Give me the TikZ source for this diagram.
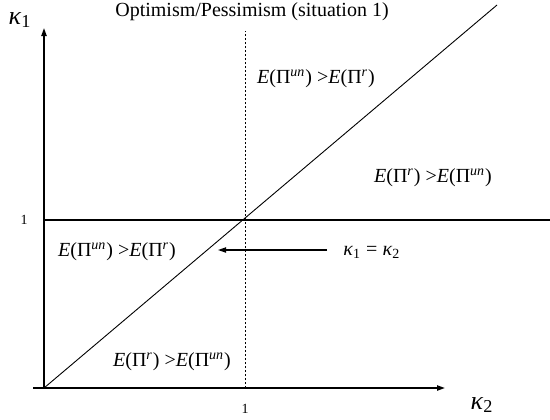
\documentclass[tikz,border=0pt]{standalone}
\usepackage{fontspec}
\setmainfont{Liberation Serif}
\usetikzlibrary{arrows.meta, positioning}
\tikzset{
  op-axis/.style={-{Triangle[length=4pt,width=2.6pt]}, line width=0.8pt},
  op-line/.style={line width=0.8pt},
  op-diag/.style={line width=0.45pt},
  op-dash/.style={line width=0.45pt, dash pattern=on 1.2pt off 0.8pt},
  op-flow/.style={-{Triangle[length=4pt,width=2.6pt]}, line width=0.6pt},
  op-label/.style={inner sep=0pt, font=\fontsize{10}{12}\selectfont},
  op-tick/.style={inner sep=0pt, font=\fontsize{7}{8}\selectfont},
  op-var/.style={inner sep=0pt, font=\fontsize{13}{14}\selectfont},
}
\newcommand{\Eup}{\textit{E}(Π\textsuperscript{\textit{un}})}
\newcommand{\Er}{\textit{E}(Π\textsuperscript{\textit{r}})}

\begin{document}
\begin{tikzpicture}[x=0.5pt, y=-0.5pt]
  \useasboundingbox (0,0) rectangle (550,419);
  % axes and reference lines
  \coordinate (o)    at (44,388);
  \coordinate (ytop) at (44,28);
  \coordinate (xl)   at (33,388);
  \coordinate (xr)   at (445,388);
  \coordinate (vt)   at (245,31);
  \coordinate (vb)   at (245,388);
  \coordinate (hr)   at (550,220);
  \coordinate (hl)   at (44,220);
  \coordinate (dtop) at (497,5);

  \draw[op-axis] (o) -- (ytop);
  \draw[op-axis] (xl) -- (xr);
  \draw[op-dash] (vb) -- (vt);
  \draw[op-line] (hl) -- (hr);
  \draw[op-diag] (o) -- (dtop);

  % labels
  \node[op-label] (title) at (252,12) {Optimism/Pessimism (situation 1)};
  \node[op-var]  (k1) at (20,20) {\textit{κ}\textsubscript{1}};
  \node[op-var]  (k2) at (482,405) {\textit{κ}\textsubscript{2}};
  \node[op-tick] (one-y) at (24,220) {1};
  \node[op-tick] (one-x) at (245,409) {1};

  \node[op-label] (ua) at (316,79)  {\Eup\ >\Er};
  \node[op-label] (rb) at (433,178) {\Er\ >\Eup};
  \node[op-label] (ul) at (117,252) {\Eup\ >\Er};
  \node[op-label] (rl) at (172,362) {\Er\ >\Eup};

  \node[op-label, anchor=west] (eq) at (343,252)
    {\textit{κ}\textsubscript{1} = \textit{κ}\textsubscript{2}};
  \coordinate (arr) at (327,250);
  \draw[op-flow] (arr) -- (218,250);
\end{tikzpicture}
\end{document}
